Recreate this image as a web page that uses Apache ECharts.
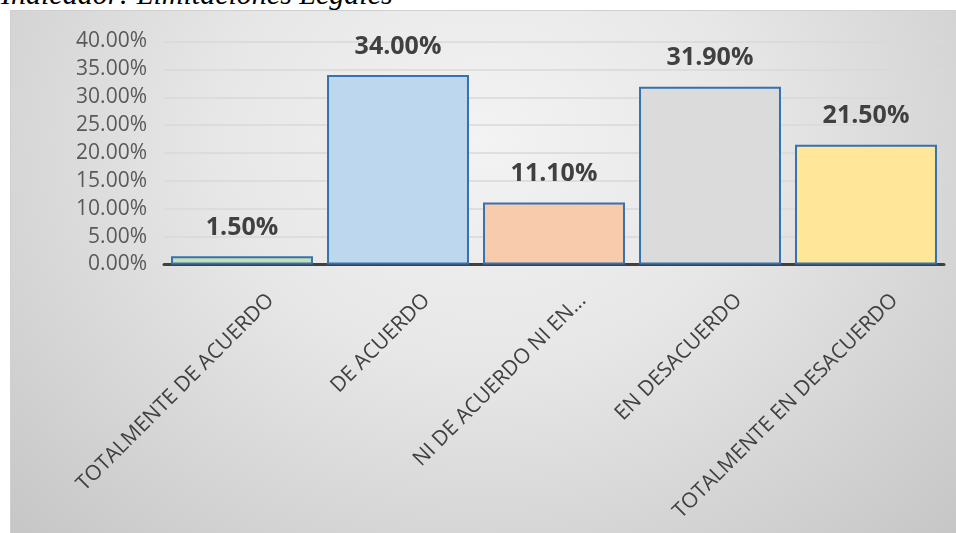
<!DOCTYPE html>
<html>
<head>
<meta charset="utf-8">
<script src="https://cdn.jsdelivr.net/npm/echarts@6/dist/echarts.min.js"></script>
<style>
  html, body { margin: 0; padding: 0; background: #ffffff; width: 956px; height: 533px; overflow: hidden; }
  #heading {
    position: absolute; left: 1px; top: -21px;
    font-family: "Liberation Serif", "DejaVu Serif", serif;
    font-style: italic; font-size: 30px; line-height: 30px; color: #000;
    white-space: nowrap;
  }
  #frame {
    position: absolute; left: 10px; top: 10px; width: 945px; height: 523px;
    border-top: 1px solid #d0d0d0; border-left: 1px solid #d0d0d0;
    background: radial-gradient(ellipse farthest-corner at 50% 25%, #f3f3f3 0%, #e7e7e7 40%, #c6c6c6 100%);
  }
  #chart { width: 945px; height: 523px; }
</style>
</head>
<body>
<div id="heading">Indicador: Limitaciones Legales</div>
<div id="frame"><div id="chart"></div></div>
<script>
// Survey answers for the "Limitaciones Legales" indicator
const categories = [
  'TOTALMENTE DE ACUERDO',
  'DE ACUERDO',
  'NI DE ACUERDO NI EN DESACUERDO',
  'EN DESACUERDO',
  'TOTALMENTE EN DESACUERDO'
];
const shares = [0.015, 0.34, 0.111, 0.319, 0.215];
const barColors = ['#c5e0b4', '#bdd7ee', '#f8cbad', '#dbdbdb', '#ffe699'];
const yTicks = { min: 0, max: 0.4, step: 0.05 };

const pct = v => (v * 100).toFixed(2) + '%';
const shortLabel = v => (v.length > 24 ? v.slice(0, 19) + '...' : v);

const chart = echarts.init(document.getElementById('chart'), null, { renderer: 'canvas' });

chart.setOption({
  backgroundColor: 'transparent',
  animation: false,
  grid: { left: 153, right: 12, top: 30.5, bottom: 269.5, containLabel: false },
  xAxis: {
    type: 'category',
    data: categories,
    axisTick: { show: false },
    axisLine: { show: true, lineStyle: { color: '#404040', width: 3 } },
    axisLabel: {
      interval: 0,
      rotate: 45,
      margin: 4,
      align: 'right',
      verticalAlign: 'top',
      padding: [30, 0, 0, 0],
      color: '#404040',
      fontFamily: '"Open Sans", sans-serif',
      fontSize: 21,
      formatter: shortLabel
    }
  },
  yAxis: {
    type: 'value',
    min: yTicks.min,
    max: yTicks.max,
    interval: yTicks.step,
    axisLine: { show: false },
    axisTick: { show: false },
    splitLine: { show: true, lineStyle: { color: '#d9d9d9', width: 1.5 } },
    axisLabel: {
      margin: 17,
      color: '#595959',
      fontFamily: '"Open Sans", sans-serif',
      fontSize: 21,
      formatter: pct
    }
  },
  series: [{
    type: 'bar',
    barCategoryGap: '9%',
    data: shares.map((v, i) => ({
      value: v,
      itemStyle: { color: barColors[i] }
    })),
    itemStyle: { borderColor: '#3572b0', borderWidth: 2 },
    label: {
      show: true,
      position: 'top',
      distance: 16,
      color: '#404040',
      fontFamily: '"Open Sans", sans-serif',
      fontWeight: 'bold',
      fontSize: 25,
      formatter: p => pct(p.value)
    }
  }]
});
</script>
</body>
</html>
